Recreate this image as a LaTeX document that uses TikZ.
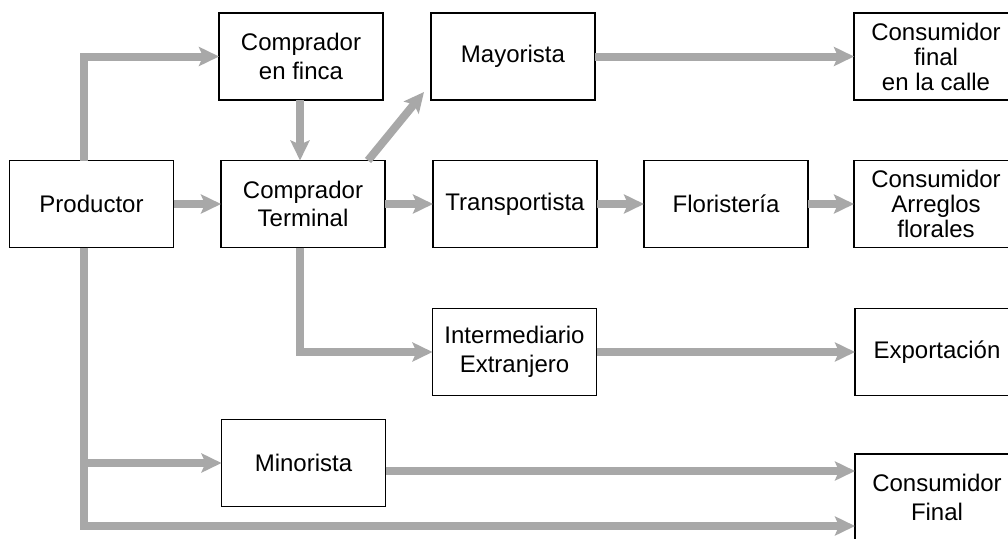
\documentclass[tikz,border=0pt]{standalone}
\usepackage{fontspec}
\setmainfont{Liberation Sans}
\usetikzlibrary{arrows.meta}
\definecolor{arrgray}{HTML}{A8A8A8}
\tikzset{
  box/.style={draw=black, line width=1.6pt, fill=white, minimum width=164pt, minimum height=87pt,
    inner sep=0pt, outer sep=0pt, align=center, font=\fontsize{24}{28.5}\selectfont},
  box3/.style={box, font=\fontsize{24}{25}\selectfont},
  arr/.style={draw=arrgray, line width=8pt, line join=miter,
    -{Stealth[length=20pt, width=19pt, inset=4pt]}},
}
\begin{document}
\begin{tikzpicture}[x=1pt,y=-1pt]
\clip (0,0) rectangle (1008,538);
\fill[white] (0,0) rectangle (1008,538);
\node[box] (prod) at (91.5,204) {Productor};
\node[box] (finca) at (301,56.5) {Comprador\\en finca};
\node[box] (term) at (303,204) {Comprador\\Terminal};
\node[box] (may) at (513,56.5) {Mayorista};
\node[box3] (calle) at (936,56.5) {Consumidor\\final\\en la calle};
\node[box] (trans) at (515,204) {Transportista};
\node[box] (flor) at (726,204) {Floristería};
\node[box3] (arreg) at (936,204) {Consumidor\\Arreglos\\florales};
\node[box] (inter) at (514.5,352) {Intermediario\\Extranjero};
\node[box] (export) at (937,352) {Exportación};
\node[box] (mino) at (303.5,463) {Minorista};
\node[box] (cf) at (937,497.5) {Consumidor\\Final};

\coordinate (pn) at ([xshift=-7.5pt]prod.north);
\coordinate (ps) at ([xshift=-7.5pt]prod.south);
\coordinate (pb) at ([yshift=-28.5pt]cf.west);
\coordinate (m1) at ([yshift=-8pt]mino.east);
\coordinate (ts) at ([xshift=-3pt]term.south);
\coordinate (fs) at ([xshift=-1pt]finca.south);
\coordinate (tn) at ([xshift=65pt]term.north);
\coordinate (mw) at ([shift={(-7pt,8pt)}]may.south west);

\draw[arr] (pn) |- (finca.west);
\draw[arr] (fs) -- (fs |- term.north);
\draw[arr] (prod.east) -- (term.west);
\draw[arr] (tn) -- (mw);
\draw[arr] (may.east) -- (calle.west);
\draw[arr] (term.east) -- (trans.west);
\draw[arr] (trans.east) -- (flor.west);
\draw[arr] (flor.east) -- (arreg.west);
\draw[arr] (ts) |- (inter.west);
\draw[arr] (inter.east) -- (export.west);
\draw[arr] (ps) |- (pb);
\draw[arr] (ps |- mino.west) -- (mino.west);
\draw[arr] (m1) -- (m1 -| cf.west);
\end{tikzpicture}
\end{document}
